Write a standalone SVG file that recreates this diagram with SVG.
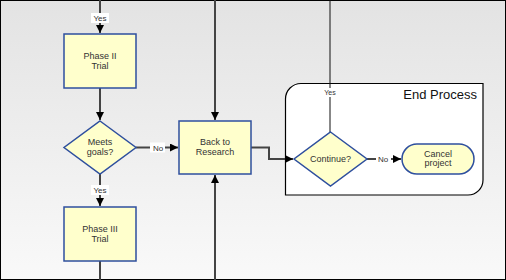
<svg xmlns="http://www.w3.org/2000/svg" width="506" height="280" viewBox="0 0 506 280">
<defs>
<linearGradient id="bg" x1="0" y1="0" x2="0" y2="1">
<stop offset="0" stop-color="#e3e3e3"/>
<stop offset="1" stop-color="#f9f9f9"/>
</linearGradient>
<marker id="arr" viewBox="0 0 10 10" refX="10" refY="5" markerWidth="4.5" markerHeight="4.5" orient="auto" markerUnits="userSpaceOnUse">
<path d="M0,0 L10,5 L0,10 z" fill="#000"/>
</marker>
<marker id="arrS" viewBox="0 0 10 10" refX="10" refY="5" markerWidth="8" markerHeight="8" orient="auto" markerUnits="userSpaceOnUse">
<path d="M0,0 L10,5 L0,10 z" fill="#000"/>
</marker>
</defs>
<style>
.node{fill:#ffffcc;stroke:#2e4f9e;stroke-width:1.5}
.t{font-family:"Liberation Sans",Arial,sans-serif;font-size:9px;fill:#333;text-anchor:middle}
.lbl{font-family:"Liberation Sans",Arial,sans-serif;font-size:8px;fill:#333;text-anchor:middle}
.c{fill:none;stroke:#444;stroke-width:2}
.c1{fill:none;stroke:#111;stroke-width:1}
</style>
<rect x="0.5" y="0.5" width="505" height="279" fill="url(#bg)" stroke="#000" stroke-width="1"/>

<g id="end-process">
<path d="M301,83.5 H483 V180 A15,15 0 0 1 468,195 H285.5 V99 A15.5,15.5 0 0 1 301,83.5 Z" fill="#fff" stroke="#000" stroke-width="1.2"/>
<text x="477" y="99" style="font-family:'Liberation Sans',Arial,sans-serif;font-size:13px;fill:#111;text-anchor:end">End Process</text>
</g>

<g id="connectors">
<path class="c" d="M100,0 V33" marker-end="url(#arrS)"/>
<rect x="91" y="13" width="18" height="10" fill="#fff"/>
<text class="lbl" x="100" y="21">Yes</text>
<path class="c" d="M100,88 V120" marker-end="url(#arrS)"/>
<path class="c" d="M100,174 V206" marker-end="url(#arrS)"/>
<rect x="91" y="185" width="18" height="10" fill="#fff"/>
<text class="lbl" x="100" y="193">Yes</text>
<path class="c" d="M100,261 V280"/>
<path class="c" d="M136,147.5 H178" marker-end="url(#arrS)"/>
<rect x="150" y="142.5" width="15" height="10" fill="#fff"/>
<text class="lbl" x="158" y="150.5">No</text>
<path class="c" d="M215,0 V120" marker-end="url(#arrS)"/>
<path class="c" d="M215,280 V175" marker-end="url(#arrS)"/>
<path class="c" d="M251,147.5 H269 V159 H293" marker-end="url(#arrS)"/>
<path class="c1" d="M330,0 V132"/>
<rect x="323" y="88" width="14" height="9" fill="#fff"/>
<text x="330" y="95" style="font-family:'Liberation Sans',Arial,sans-serif;font-size:7px;fill:#333;text-anchor:middle">Yes</text>
<path class="c" d="M367,159 H401" marker-end="url(#arrS)"/>
<rect x="376" y="154" width="15" height="10" fill="#fff"/>
<text class="lbl" x="383" y="162">No</text>
</g>

<g id="phase2">
<rect class="node" x="64" y="34" width="72" height="54"/>
<text class="t" x="100" y="59">Phase II</text>
<text class="t" x="100" y="69">Trial</text>
</g>
<g id="meets-goals">
<polygon class="node" points="100,121 136,147.5 100,174 64,147.5"/>
<text class="t" x="100" y="145">Meets</text>
<text class="t" x="100" y="155">goals?</text>
</g>
<g id="phase3">
<rect class="node" x="64" y="207" width="72" height="54"/>
<text class="t" x="100" y="232">Phase III</text>
<text class="t" x="100" y="242">Trial</text>
</g>
<g id="back-to-research">
<rect class="node" x="179" y="121" width="72" height="53"/>
<text class="t" x="215" y="145">Back to</text>
<text class="t" x="215" y="155">Research</text>
</g>
<g id="continue">
<polygon class="node" points="330.5,132 367,159 330.5,186 294,159"/>
<text class="t" x="330.5" y="162">Continue?</text>
</g>
<g id="cancel">
<rect class="node" x="402" y="144" width="72" height="30" rx="15" ry="15"/>
<text class="t" x="438" y="157">Cancel</text>
<text class="t" x="438" y="166">project</text>
</g>
</svg>
